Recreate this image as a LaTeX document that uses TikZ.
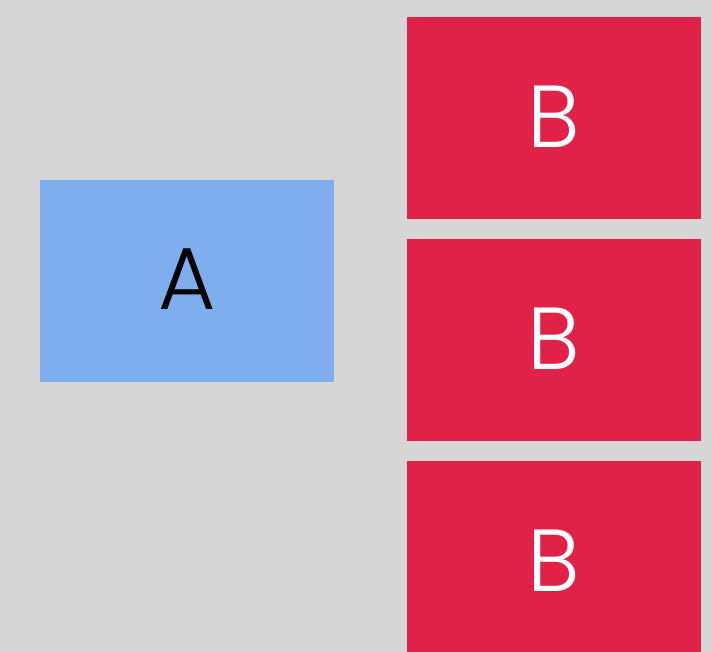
\documentclass[tikz,border=0pt]{standalone}
\usepackage{fontspec}
\setmainfont{Poppins}[UprightFont=* Light]
\definecolor{bg}{HTML}{D6D6D6}
\definecolor{boxA}{HTML}{7EAEEE}
\definecolor{boxB}{HTML}{E12248}
\begin{document}
\begin{tikzpicture}[x=1pt,y=-1pt,
  abox/.style={fill=boxA,draw=none,minimum width=294pt,minimum height=202pt,inner sep=0pt,text=black,font=\fontsize{88}{88}\selectfont},
  bbox/.style={fill=boxB,draw=none,minimum width=294pt,minimum height=202pt,inner sep=0pt,text=white,font=\fontsize{88}{88}\selectfont}]
\fill[bg] (0,0) rectangle (712,652);
\useasboundingbox (0,0) rectangle (712,652);
\node[abox] (a) at (187,281) {\raisebox{3pt}{A}};
\node[bbox] (b1) at (554,118) {\raisebox{2pt}{B}};
\node[bbox] (b2) at (554,340) {\raisebox{2pt}{B}};
\node[bbox] (b3) at (554,562) {\raisebox{2pt}{B}};
\end{tikzpicture}
\end{document}
